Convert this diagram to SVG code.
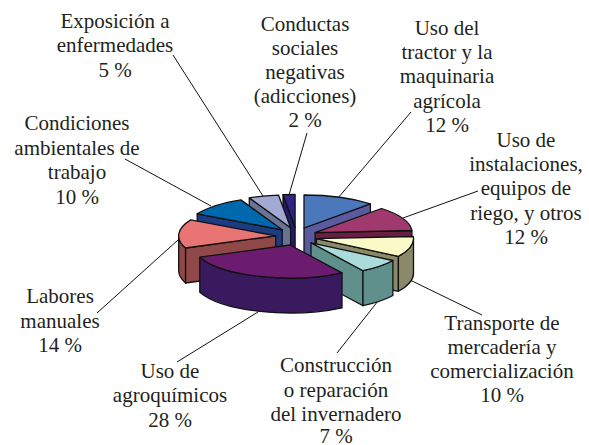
<svg xmlns="http://www.w3.org/2000/svg" width="589" height="445" viewBox="0 0 589 445">
<style>
.ln{stroke:#111;stroke-width:1;fill:none}
.pf{stroke:#111;stroke-width:1.3;stroke-linejoin:round}
.lbl{font-family:'Liberation Serif',serif;font-size:21px;text-anchor:middle;fill:#231f20}
</style>
<rect width="589" height="445" fill="#fff"/>
<g id="connectors">
<line class="ln" x1="173" y1="55" x2="263" y2="196"/>
<line class="ln" x1="125" y1="159" x2="211" y2="206"/>
<line class="ln" x1="307" y1="133" x2="289" y2="195"/>
<line class="ln" x1="411" y1="112" x2="338" y2="198"/>
<line class="ln" x1="478" y1="191" x2="403" y2="218"/>
<line class="ln" x1="410" y1="280" x2="482" y2="315"/>
<line class="ln" x1="378" y1="301" x2="337" y2="353"/>
<line class="ln" x1="258" y1="312" x2="177" y2="362"/>
<line class="ln" x1="178" y1="240" x2="97" y2="313"/>
</g>
<g id="conductas">
<path class="pf" fill="#241a6e" d="M295.1,227.4 L283,194.7 L283,229.7 L295.1,262.4 Z"/>
<path class="pf" fill="#2e2484" d="M295.1,227.4 L283,194.7 A97,33 0 0,1 295.1,194.4 Z"/>
<text class="lbl" x="305" y="31">Conductas</text>
<text class="lbl" x="305" y="55">sociales</text>
<text class="lbl" x="305" y="79">negativas</text>
<text class="lbl" x="305" y="103">(adicciones)</text>
<text class="lbl" x="305" y="127">2 %</text>
</g>
<g id="exposicion">
<path class="pf" fill="#6b7394" d="M290.6,227.8 L249.3,197.9 L249.3,232.9 L290.6,262.8 Z"/>
<path class="pf" fill="#a2aad4" d="M290.6,227.8 L249.3,197.9 A97,33 0 0,1 278.5,195.1 Z"/>
<text class="lbl" x="115" y="28">Exposición a</text>
<text class="lbl" x="115" y="52">enfermedades</text>
<text class="lbl" x="115" y="77">5 %</text>
</g>
<g id="tractor">
<path class="pf" fill="#5a5a9e" d="M304,228 L370.4,203.9 L370.4,238.9 L304,263 Z"/>
<path class="pf" fill="#4a78ba" d="M304,228 L304,195 A97,33 0 0,1 370.4,203.9 Z"/>
<text class="lbl" x="447" y="35">Uso del</text>
<text class="lbl" x="447" y="59">tractor y la</text>
<text class="lbl" x="447" y="83">maquinaria</text>
<text class="lbl" x="447" y="108">agrícola</text>
<text class="lbl" x="447" y="132">12 %</text>
</g>
<g id="condiciones">
<path class="pf" fill="#1c3c82" d="M282.2,229.8 L197.2,213.9 L197.2,248.9 L282.2,264.8 Z"/>
<path class="pf" fill="#0068ac" d="M282.2,229.8 L197.2,213.9 A97,33 0 0,1 240.9,199.9 Z"/>
<text class="lbl" x="77" y="130">Condiciones</text>
<text class="lbl" x="77" y="155">ambientales de</text>
<text class="lbl" x="77" y="179">trabajo</text>
<text class="lbl" x="77" y="204">10 %</text>
</g>
<g id="instalaciones">
<path class="pf" fill="#6a1e44" d="M315.1,232.6 L411.9,230.5 L411.9,265.5 L315.1,267.6 Z"/>
<path class="pf" fill="#a03a6e" d="M315.1,232.6 L381.5,208.5 A97,33 0 0,1 411.9,230.5 Z"/>
<text class="lbl" x="526" y="147">Uso de</text>
<text class="lbl" x="526" y="171">instalaciones,</text>
<text class="lbl" x="526" y="195">equipos de</text>
<text class="lbl" x="526" y="220">riego, y otros</text>
<text class="lbl" x="526" y="244">12 %</text>
</g>
<g id="labores">
<path class="pf" fill="#904848" d="M275.7,235.8 L185.5,248 L185.5,283 L275.7,270.8 Z"/>
<path class="pf" fill="#904848" d="M185.5,248 A97,33 0 0,1 178.7,235.8 L178.7,270.8 A97,33 0 0,0 185.5,283 Z"/>
<path class="pf" fill="#e87474" d="M275.7,235.8 L185.5,248 A97,33 0 0,1 190.7,219.9 Z"/>
<text class="lbl" x="60" y="303">Labores</text>
<text class="lbl" x="60" y="328">manuales</text>
<text class="lbl" x="60" y="352">14 %</text>
</g>
<g id="transporte">
<path class="pf" fill="#8a8a6a" d="M316.5,238.6 L398.4,256.3 L398.4,291.3 L316.5,273.6 Z"/>
<path class="pf" fill="#8a8a6a" d="M413.5,238.6 A97,33 0 0,1 398.4,256.3 L398.4,291.3 A97,33 0 0,0 413.5,273.6 Z"/>
<path class="pf" fill="#fafac8" d="M316.5,238.6 L413.3,236.5 A97,33 0 0,1 398.4,256.3 Z"/>
<text class="lbl" x="502" y="330">Transporte de</text>
<text class="lbl" x="502" y="354">mercadería y</text>
<text class="lbl" x="502" y="378">comercialización</text>
<text class="lbl" x="502" y="402">10 %</text>
</g>
<g id="construccion">
<path class="pf" fill="#5f908c" d="M311,242.8 L363,270.7 L363,305.7 L311,277.8 Z"/>
<path class="pf" fill="#5f908c" d="M392.9,260.5 A97,33 0 0,1 363,270.7 L363,305.7 A97,33 0 0,0 392.9,295.5 Z"/>
<path class="pf" fill="#aadcdc" d="M311,242.8 L392.9,260.5 A97,33 0 0,1 363,270.7 Z"/>
<text class="lbl" x="336" y="372">Construcción</text>
<text class="lbl" x="336" y="397">o reparación</text>
<text class="lbl" x="336" y="421">del invernadero</text>
<text class="lbl" x="336" y="443">7 %</text>
</g>
<g id="agroquimicos">
<path class="pf" fill="#3a1a5e" d="M342,272.9 A97,33 0 0,1 199.8,257.2 L199.8,292.2 A97,33 0 0,0 342,307.9 Z"/>
<path class="pf" fill="#6c1c6e" d="M290,245 L342,272.9 A97,33 0 0,1 199.8,257.2 Z"/>
<text class="lbl" x="170" y="378">Uso de</text>
<text class="lbl" x="170" y="402">agroquímicos</text>
<text class="lbl" x="170" y="427">28 %</text>
</g>
</svg>
